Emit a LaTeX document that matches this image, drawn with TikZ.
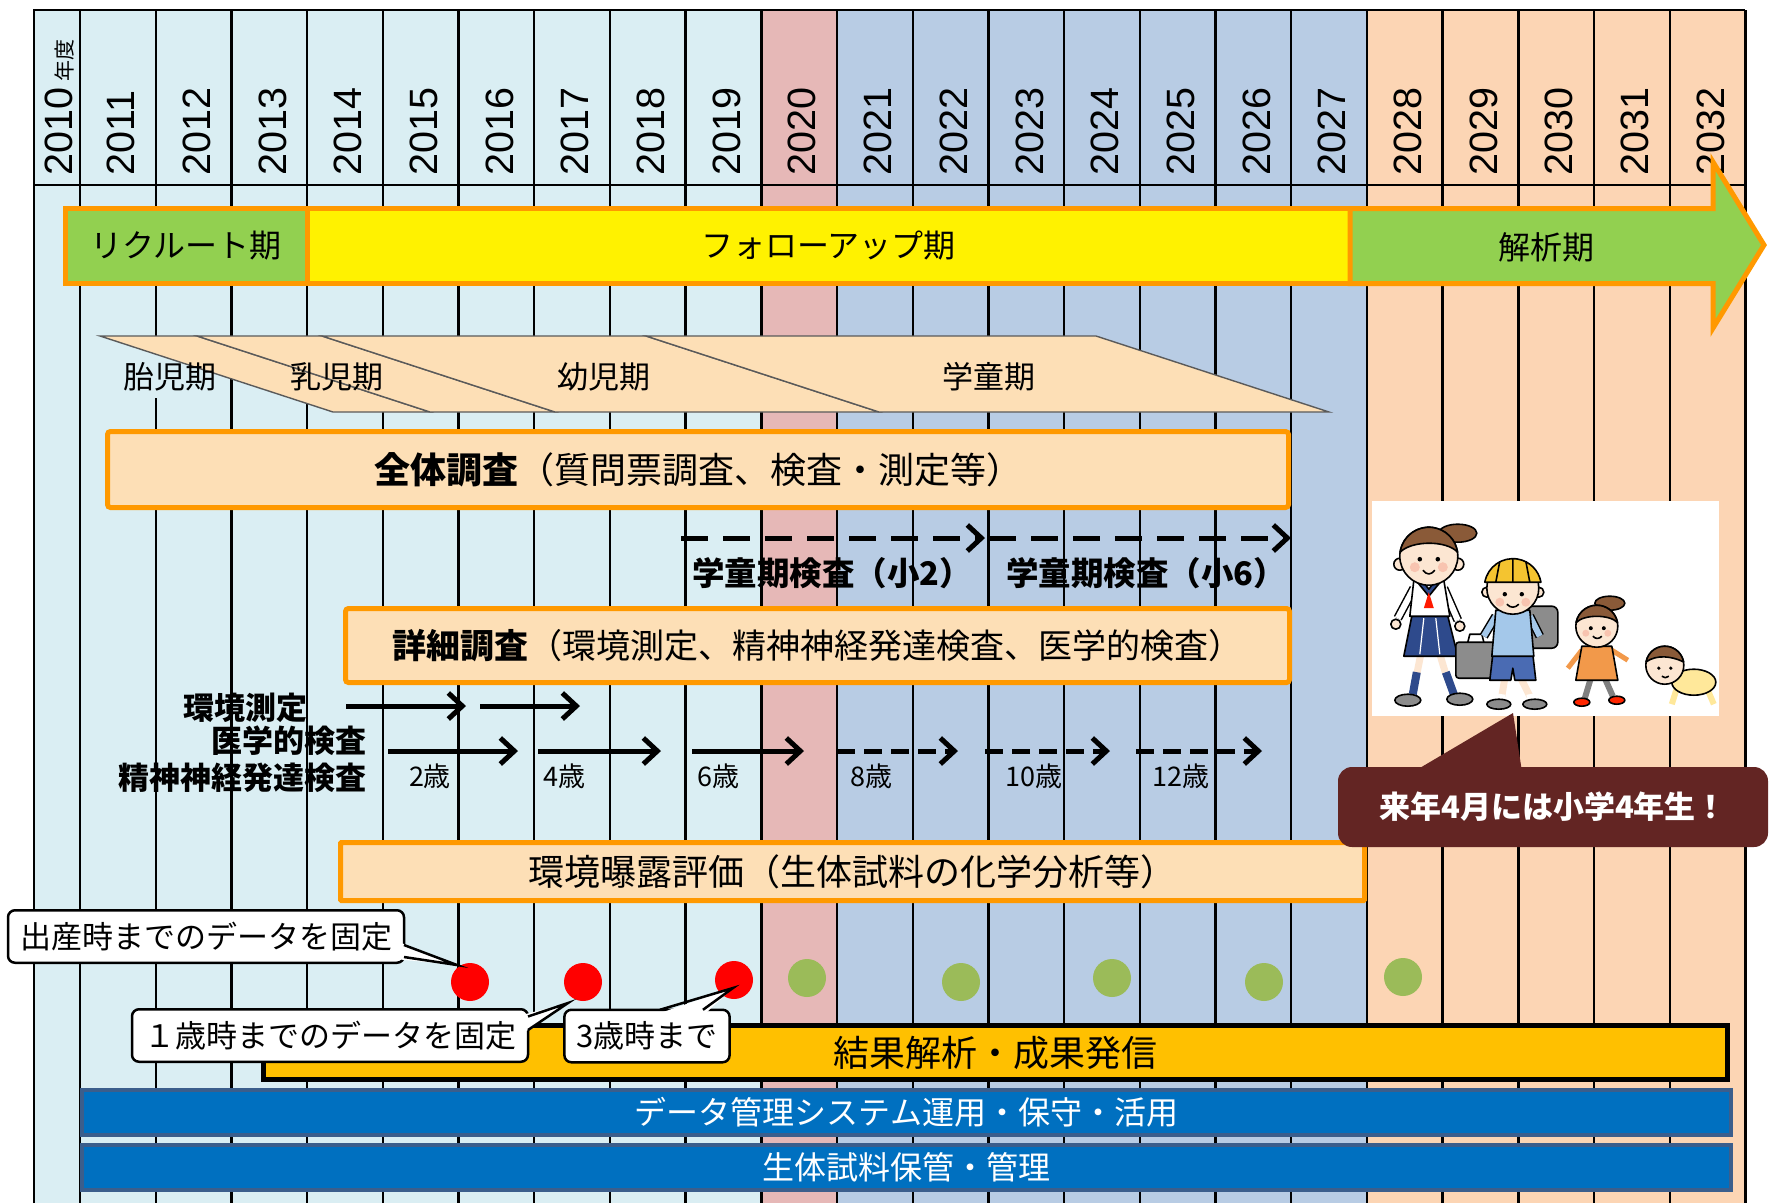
\documentclass[tikz,border=0pt]{standalone}
\usepackage{fontspec}
\setmainfont{Noto Sans CJK JP}
\newfontfamily\yearfont{Liberation Sans}
\usetikzlibrary{arrows.meta, positioning}

\definecolor{earlyyrs}{HTML}{DAEEF3}
\definecolor{nowyr}{HTML}{E6B8B7}
\definecolor{schoolyrs}{HTML}{B8CCE4}
\definecolor{lateyrs}{HTML}{FCD5B4}
\definecolor{frameorange}{HTML}{FF9900}
\definecolor{phasegreen}{HTML}{92D050}
\definecolor{boxpeach}{HTML}{FDDFB6}
\definecolor{stageline}{HTML}{5A5A5A}
\definecolor{resultgold}{HTML}{FFC000}
\definecolor{barblue}{HTML}{0070C0}
\definecolor{barframe}{HTML}{3B5E8C}
\definecolor{dotgreen}{HTML}{9BBB59}
\definecolor{bubblered}{HTML}{632523}
\definecolor{skin}{HTML}{FCE6D2}
\definecolor{hair}{HTML}{8A5A38}
\definecolor{navy}{HTML}{2E4A8C}
\definecolor{baggray}{HTML}{8C8C8C}
\definecolor{hatyellow}{HTML}{F4C430}
\definecolor{shirtblue}{HTML}{A4C8EA}
\definecolor{shortblue}{HTML}{4A6BB3}
\definecolor{kidorange}{HTML}{F2994A}
\definecolor{babyyellow}{HTML}{FFE89A}
\definecolor{cheek}{HTML}{F8C4B0}

\tikzset{
	gridline/.style={black, line width=2.4pt},
	yearlabel/.style={rotate=90, anchor=west, inner sep=0pt, font=\yearfont\fontsize{39.5}{40}\selectfont},
	phasebox/.style={draw=frameorange, line width=5pt, inner sep=0pt, minimum height=75pt, font=\fontsize{32}{34}\selectfont},
	stage/.style={fill=boxpeach, draw=stageline, line width=1.4pt},
	stagelabel/.style={inner sep=1pt, font=\fontsize{31}{31}\selectfont},
	surveybox/.style={draw=frameorange, fill=boxpeach, line width=5pt, rounded corners=3pt, inner sep=0pt},
	exam/.style={line width=5pt, -{Straight Barb[length=14pt,width=26pt]}},
	examplan/.style={exam, dash pattern=on 18pt off 9pt},
	schoolexam/.style={exam, dash pattern=on 27pt off 15pt},
	schoollabel/.style={font=\bfseries\fontsize{32.5}{33}\selectfont},
	examlabel/.style={anchor=east, inner sep=0pt, font=\bfseries\fontsize{31}{31}\selectfont},
	agelabel/.style={inner sep=0pt, font=\fontsize{27}{27}\selectfont},
	fixdot/.style={circle, fill=red, minimum size=38pt, inner sep=0pt},
	plandot/.style={circle, fill=dotgreen, minimum size=38pt, inner sep=0pt},
	fixnote/.style={draw, fill=white, line width=2.5pt, rounded corners=7pt, outer sep=0pt,
		minimum height=52.5pt, inner xsep=12pt, font=\fontsize{31}{31}\selectfont},
	notepointer/.style={line width=2.5pt, line join=miter},
	wideband/.style={draw=barframe, fill=barblue, line width=4.5pt, minimum width=1649pt, minimum height=45pt,
		inner sep=0pt, text=white, font=\fontsize{32}{32}\selectfont},
	kidline/.style={line width=1.6pt, line join=round}
}

\begin{document}
\begin{tikzpicture}[x=1pt, y=-1pt]
\useasboundingbox (0,0) rectangle (1769,1203);
\fill[white] (0,0) rectangle (1769,1203);

% year columns
\fill[earlyyrs] (34,10) rectangle (761.3,1203);
\fill[nowyr] (761.3,10) rectangle (837,1203);
\fill[schoolyrs] (837,10) rectangle (1367,1203);
\fill[lateyrs] (1367,10) rectangle (1745.4,1203);
\foreach \k in {0,...,22}{
	\pgfmathsetmacro\gx{80+75.7*\k}
	\draw[gridline] (\gx,10) -- (\gx,1203);
}
\draw[gridline] (34,1203) -- (34,10) -- (1745.4,10);
\draw[gridline] (34,185) -- (1745.4,185);

\node[yearlabel] (y2010) at (60,176) {2010\hspace{6pt}{\normalfont\fontsize{21}{21}\selectfont 年度}};
\foreach \yr [count=\i from 0] in {2011,...,2032}{
	\pgfmathsetmacro\cx{121+75.7*\i}
	\node[yearlabel] (y\yr) at (\cx,176) {\yr};
}

% phases
\node[phasebox, fill=yellow, minimum width=1043pt] (follow) at (828.5,246) {フォローアップ期};
\node[phasebox, fill=phasegreen, minimum width=241.5pt] (recruit) at (186.25,246) {リクルート期};
\draw[draw=frameorange, line width=5pt, fill=phasegreen] (1350,208.5) -- (1713,208.5) -- (1713,162)
	-- (1764,245) -- (1713,328) -- (1713,283.5) -- (1350,283.5) -- cycle;
\node[font=\fontsize{32}{34}\selectfont] (analysis) at (1546,247) {解析期};

% life stages
\fill[earlyyrs] (118,340) rectangle (222,398);
\foreach \a/\b in {100/197, 197/322, 322/646, 646/1096}
	\draw[stage] (\a,336) -- (\b,336) -- ({\b+233},412) -- ({\a+233},412) -- cycle;
\node[stagelabel] (fetal) at (170,377) {胎児期};
\node[stagelabel] (infant) at (337,377) {乳児期};
\node[stagelabel] (toddler) at (604,377) {幼児期};
\node[stagelabel] (school) at (989,377) {学童期};

% surveys
\node[surveybox, minimum width=1181pt, minimum height=76pt, font=\fontsize{36}{36}\selectfont] (whole) at (698,469.5)
	{\textbf{全体調査}（質問票調査、検査・測定等）};

\coordinate (se0) at (681,538);
\coordinate (se1) at (985,538);
\coordinate (se2) at (989,538);
\coordinate (se3) at (1291,538);
\draw[schoolexam] (se0) -- (se1);
\draw[schoolexam] (se2) -- (se3);
\node[schoollabel] (grade2) at (832,573) {学童期検査（小2）};
\node[schoollabel] (grade6) at (1146,573) {学童期検査（小6）};

\node[surveybox, minimum width=944pt, minimum height=74pt, font=\fontsize{34}{34}\selectfont] (detail) at (817.5,645.5)
	{\textbf{詳細調査}（環境測定、精神神経発達検査、医学的検査）};

\foreach \s/\e [count=\n] in {346/466, 480/580}{
	\coordinate (envs\n) at (\s,706);
	\coordinate (enve\n) at (\e,706);
	\draw[exam] (envs\n) -- (enve\n);
}
\foreach \s/\e [count=\n] in {388/518, 538/661, 692/804}{
	\coordinate (meds\n) at (\s,751);
	\coordinate (mede\n) at (\e,751);
	\draw[exam] (meds\n) -- (mede\n);
}
\foreach \s/\e [count=\n] in {837/958, 985/1110, 1136/1262}{
	\coordinate (plans\n) at (\s,751);
	\coordinate (plane\n) at (\e,751);
	\draw[examplan] (plans\n) -- (plane\n);
}
\node[examlabel] (envlab) at (308,708) {環境測定};
\node[examlabel] (medlab) at (367,741) {医学的検査};
\node[examlabel] (devlab) at (367,778) {精神神経発達検査};
\foreach \x/\a in {430/2, 564/4, 718/6, 871/8, 1034/10, 1181/12}
	\node[agelabel] (age\a) at (\x,776) {\a 歳};

\node[surveybox, rounded corners=1pt, minimum width=1024pt, minimum height=58pt, font=\fontsize{36}{36}\selectfont] (exposure)
	at (852.5,871.5) {環境曝露評価（生体試料の化学分析等）};

% data freezes and later follow-ups
\node[fixdot] (fix0) at (470,982) {};
\node[fixdot] (fix1) at (583,982) {};
\node[fixdot] (fix3) at (734,980) {};
\foreach \x/\y [count=\n] in {807/978, 961/982, 1112/978, 1264/982, 1403/977}
	\node[plandot] (later\n) at (\x,\y) {};

\node[draw=black, fill=resultgold, line width=5pt, minimum width=1464pt, minimum height=54pt, inner sep=0pt,
	font=\fontsize{36}{36}\selectfont] (result) at (995.5,1052.5) {\raisebox{-4pt}{結果解析・成果発信}};
\node[wideband] (datasys) at (906.5,1112.5) {データ管理システム運用・保守・活用};
\node[wideband] (biobank) at (906.5,1167.5) {生体試料保管・管理};

% notes on the frozen data
\node[fixnote] (note0) at (206,936.5) {出産時までのデータを固定};
\node[fixnote] (note1) at (330,1035.5) {１歳時までのデータを固定};
\node[fixnote] (note3) at (647,1036) {3歳時まで};
\coordinate (tip0) at (457,965);
\coordinate (tip1) at (568,1003);
\coordinate (tip3) at (733,988);
\fill[white] ([xshift=-4pt,yshift=-6pt]note0.east) -- (tip0) -- ([xshift=-4pt,yshift=-23pt]note0.east) -- cycle;
\draw[notepointer] ([yshift=-8.5pt]note0.east) -- (tip0) -- ([yshift=-20.5pt]note0.east);
\fill[white] ([xshift=-4pt,yshift=21pt]note1.east) -- (tip1) -- ([xshift=-4pt,yshift=3pt]note1.east) -- cycle;
\draw[notepointer] ([yshift=19pt]note1.east) -- (tip1) -- ([yshift=5.5pt]note1.east);
\fill[white] ([xshift=11pt,yshift=-4pt]note3.north) -- (tip3) -- ([xshift=58pt,yshift=-4pt]note3.north) -- cycle;
\draw[notepointer] ([xshift=13pt]note3.north) -- (tip3) -- ([xshift=56pt]note3.north);

% children
\node[fill=white, minimum width=347pt, minimum height=215pt, inner sep=0pt] (kids) at (1545.5,608.5) {};
\begin{scope}[shift={(kids.south west)}, yscale=-1]
	% big sister
	\filldraw[kidline, fill=hair] (86,183) ellipse [x radius=19, y radius=9];
	\draw[skin, line width=7pt] (49,62) -- (45,42) (68,62) -- (74,42);
	\draw[navy, line width=8pt] (45,44) -- (41,22) (74,44) -- (82,22);
	\filldraw[kidline, fill=baggray] (36,16) ellipse [x radius=13, y radius=6];
	\filldraw[kidline, fill=baggray] (88,17) ellipse [x radius=13, y radius=6];
	\filldraw[kidline, fill=navy] (40,100) -- (76,100) -- (86,60) -- (32,60) -- cycle;
	\draw[white, line width=1.2pt] (52,98) -- (48,62) (64,98) -- (68,62);
	\draw[line width=9pt] (42,128) -- (26,98) (72,128) -- (86,96);
	\draw[white, line width=6pt] (42,128) -- (26,98) (72,128) -- (86,96);
	\filldraw[kidline, fill=skin] (24,92) circle [radius=5] (88,90) circle [radius=5];
	\filldraw[kidline, fill=white] (42,136) -- (72,136) -- (78,100) -- (38,100) -- cycle;
	\filldraw[kidline, fill=navy] (44,136) -- (57,120) -- (70,136) -- (64,136) -- (57,127) -- (50,136) -- cycle;
	\fill[red!80!orange] (57,124) -- (52,108) -- (62,108) -- cycle;
	\filldraw[kidline, fill=baggray, rounded corners=3pt] (84,38) rectangle (124,74);
	\draw[kidline] (96,74) -- (98,82) -- (110,82) -- (112,74);
	\filldraw[kidline, fill=skin] (28,152) circle [radius=6] (86,152) circle [radius=6];
	\filldraw[kidline, fill=skin] (57,160) circle [radius=29];
	\filldraw[kidline, fill=hair] (28.3,164) arc [start angle=172, end angle=8, radius=29]
		.. controls (75,176) and (40,176) .. (28.3,164) -- cycle;
	\fill[cheek] (43,149) circle [radius=5] (71,149) circle [radius=5];
	\fill (48,157) circle [radius=2.3] (66,157) circle [radius=2.3];
	\draw[kidline] (51,146) .. controls (55,141) and (59,141) .. (63,146);
	% schoolboy
	\draw[skin, line width=7pt] (133,38) -- (130,20) (149,38) -- (158,20);
	\draw[white, line width=7pt] (130,22) -- (129,16) (158,22) -- (159,16);
	\filldraw[kidline, fill=baggray] (127,12) ellipse [x radius=12, y radius=5];
	\filldraw[kidline, fill=baggray] (163,12) ellipse [x radius=12, y radius=5];
	\filldraw[kidline, fill=shortblue] (121,62) -- (161,62) -- (164,36) -- (143,36) -- (141,48) -- (139,36) -- (118,36) -- cycle;
	\filldraw[kidline, fill=baggray, rounded corners=6pt] (152,68) rectangle (186,110);
	\draw[line width=9pt] (124,100) -- (112,80) (158,100) -- (168,80);
	\draw[shirtblue, line width=6pt] (124,100) -- (112,80) (158,100) -- (168,80);
	\filldraw[kidline, fill=shirtblue] (124,106) -- (158,106) -- (162,60) -- (120,60) -- cycle;
	\filldraw[kidline, fill=skin] (115,124) circle [radius=5] (167,124) circle [radius=5];
	\filldraw[kidline, fill=skin] (141,128) circle [radius=26];
	\filldraw[kidline, fill=hatyellow] (113,134) arc [start angle=170, end angle=10, radius=28.5] -- cycle;
	\draw[kidline] (141,157.5) -- (141,134) (128,155) -- (124,134) (154,155) -- (158,134);
	\fill[cheek] (128,114) circle [radius=4.5] (154,114) circle [radius=4.5];
	\fill (133,122) circle [radius=2.2] (150,122) circle [radius=2.2];
	\draw[kidline] (135,112) .. controls (139,108) and (143,108) .. (147,112);
	% little sister
	\filldraw[kidline, fill=hair] (238,113) ellipse [x radius=15, y radius=7];
	\draw[gray, line width=6pt] (219,38) -- (213,18) (233,38) -- (241,20);
	\filldraw[kidline, fill=red!70!orange] (210,14) ellipse [x radius=8, y radius=4];
	\filldraw[kidline, fill=red!70!orange] (245,16) ellipse [x radius=8, y radius=4];
	\draw[kidorange, line width=5pt] (210,66) -- (196,48) (240,66) -- (256,56);
	\filldraw[kidline, fill=kidorange] (210,70) -- (240,70) -- (246,36) -- (204,36) -- cycle;
	\filldraw[kidline, fill=skin] (225,90) circle [radius=21];
	\filldraw[kidline, fill=hair] (204.3,93.6) arc [start angle=170, end angle=10, radius=21]
		.. controls (238,102) and (212,102) .. (204.3,93.6) -- cycle;
	\fill[cheek] (214,83) circle [radius=3.5] (236,83) circle [radius=3.5];
	\fill (219,88) circle [radius=2] (232,88) circle [radius=2];
	\draw[kidline] (221,80) .. controls (224,77) and (227,77) .. (230,80);
	% baby
	\draw[babyyellow, line width=6pt] (305,28) -- (300,12) (336,26) -- (342,12);
	\filldraw[kidline, fill=babyyellow] (322,34) ellipse [x radius=22, y radius=13];
	\filldraw[kidline, fill=skin] (293,51) circle [radius=19];
	\filldraw[kidline, fill=hair] (274.3,54.3) arc [start angle=170, end angle=10, radius=19]
		.. controls (300,60) and (285,62) .. (274.3,54.3) -- cycle;
	\fill (287,48) circle [radius=1.8] (299,48) circle [radius=1.8];
	\draw[kidline] (290,40) .. controls (292,38) and (295,38) .. (297,40);
\end{scope}

\node[fill=bubblered, rounded corners=14pt, minimum width=430pt, minimum height=80pt, text=white,
	font=\bfseries\fontsize{31}{31}\selectfont] (nextyear) at (1553,807) {来年4月には小学4年生！};
\coordinate (bubbletip) at (1513,713);
\fill[bubblered] (1413,772) -- (bubbletip) -- (1522,772) -- cycle;
\end{tikzpicture}
\end{document}
